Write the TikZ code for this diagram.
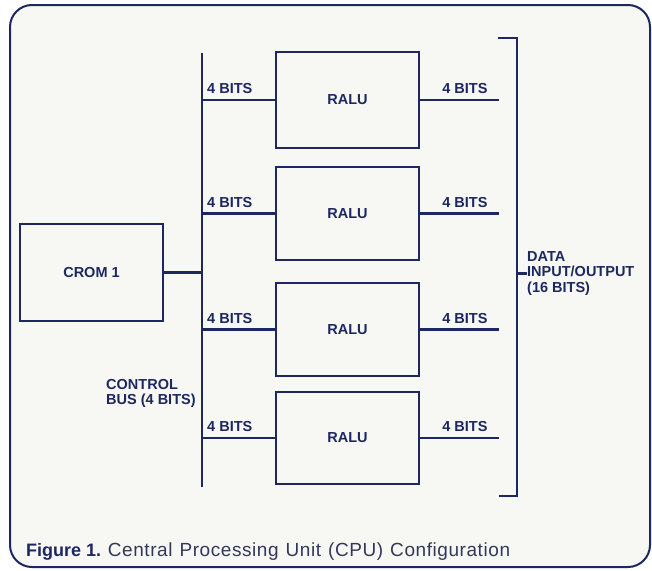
\documentclass[tikz,border=0pt]{standalone}
\usepackage{fontspec}
\setmainfont{Liberation Sans}
\newfontfamily\capfont[LetterSpace=3,WordSpace=1.2]{Liberation Sans}
\usetikzlibrary{calc}
\definecolor{navy}{RGB}{30,40,96}
\definecolor{paper}{RGB}{247,247,244}
\definecolor{captxt}{RGB}{50,56,90}
\begin{document}
\begin{tikzpicture}[x=1pt,y=-1pt,
  wire/.style={draw=navy,line width=2.3pt},
  box/.style={draw=navy,line width=2.3pt,minimum width=143pt,inner sep=0pt,
    text=navy,font=\bfseries\fontsize{14.5}{16}\selectfont},
  lbl/.style={text=navy,inner sep=0pt,font=\bfseries\fontsize{14.5}{15.5}\selectfont}]
\useasboundingbox (0,0) rectangle (652,570);
\fill[white] (0,0) rectangle (652,570);
\draw[draw=navy,line width=2pt,fill=paper,rounded corners=22pt] (10,5) rectangle (650,567);
% boxes
\node[box,minimum height=97pt] (crom) at (91.5,272.5) {CROM 1};
\node[box,minimum height=96pt] (r1) at (347.5,100) {RALU};
\node[box,minimum height=93pt] (r2) at (347.5,213.5) {RALU};
\node[box,minimum height=93pt] (r3) at (347.5,329.5) {RALU};
\node[box,minimum height=92pt] (r4) at (347.5,438) {RALU};
% control bus
\coordinate (bt) at (202,53);
\coordinate (bb) at (202,487);
\draw[wire] (bt) -- (bb);
\draw[wire] (crom.east) -- (crom.east -| bt);
% data outputs
\coordinate (dx) at (499,0);
\foreach \i in {1,...,4}{
  \draw[wire] (r\i.west -| bt) -- (r\i.west);
  \node[lbl,anchor=base west] at ($(r\i.west -| bt)+(5,-6.5)$) {4 BITS};
  \draw[wire] (r\i.east) -- (r\i.east -| dx);
  \node[lbl,anchor=base west] at ($(r\i.east)+(22,-6.5)$) {4 BITS};
}
% bracket
\coordinate (k1) at (498,38);
\coordinate (k2) at (517,38);
\coordinate (k3) at (517,496);
\coordinate (k4) at (499,496);
\draw[wire] (k1) -- (k2) -- (k3) -- (k4);
\node[lbl,align=left,anchor=west] (data) at (527,273.5) {DATA\\INPUT/OUTPUT\\(16 BITS)};
\draw[wire] (data.west -| k2) -- (data.west);
% control label
\node[lbl,align=left,anchor=north west] (ctl) at (106,379) {CONTROL\\BUS (4 BITS)};
% caption
\node[anchor=base west,inner sep=0pt,text=navy,font=\fontsize{18}{20}\selectfont] (cap) at (26,556)
  {\textbf{Figure 1.} \textcolor{captxt}{\capfont\fontsize{19}{20}\selectfont Central Processing Unit (CPU) Configuration}};
\end{tikzpicture}
\end{document}
